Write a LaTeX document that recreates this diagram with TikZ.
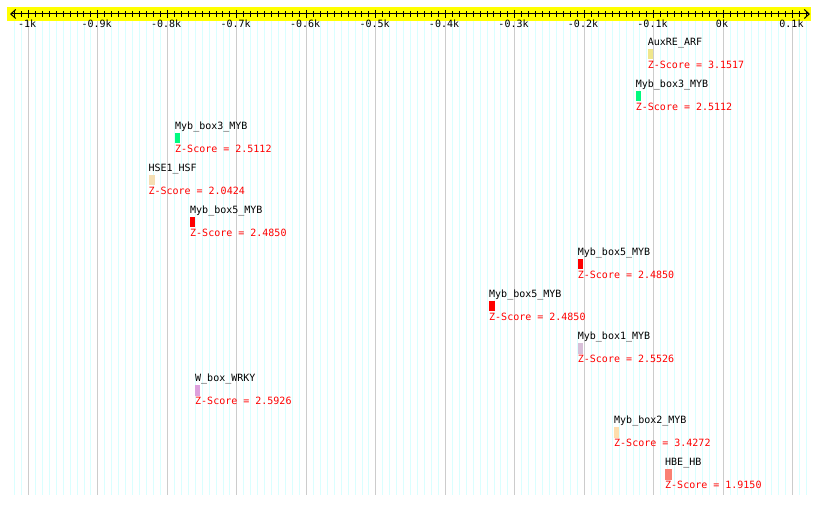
\documentclass[tikz,border=0pt]{standalone}
\usepackage{fontspec}
\usepackage{tikz}
\usetikzlibrary{arrows.meta}
\newfontfamily\monofont{DejaVu Sans Mono}
\definecolor{bandyellow}{RGB}{255,255,0}
\definecolor{gridcyan}{RGB}{218,255,255}
\definecolor{gridgray}{RGB}{204,204,204}
\definecolor{zred}{RGB}{255,0,0}
\definecolor{arfkhaki}{RGB}{240,230,140}
\definecolor{mybgreen}{RGB}{0,250,127}
\definecolor{hsfwheat}{RGB}{245,222,179}
\definecolor{mybred}{RGB}{255,0,0}
\definecolor{mybthistle}{RGB}{216,191,216}
\definecolor{wrkyplum}{RGB}{221,160,221}
\definecolor{mybpeach}{RGB}{255,222,173}
\definecolor{hbsalmon}{RGB}{250,128,114}

\begin{document}
\begin{tikzpicture}[x=1pt, y=-1pt,
    fname/.style={anchor=base west, inner sep=0pt, font=\monofont\fontsize{10}{12}\selectfont},
    zscore/.style={fname, text=zred},
    site/.style={fill=#1, anchor=north west, inner sep=0pt, minimum width=5.5pt, minimum height=10.3pt},
    ticklab/.style={anchor=base, inner sep=0pt, font=\monofont\fontsize{10}{12}\selectfont},
    arr/.style={{Straight Barb[length=5pt,width=9pt]}-{Straight Barb[length=5pt,width=9pt]}, line width=1pt}
]
\useasboundingbox (0,0) rectangle (820,505);

% Grid
\foreach \v in {-102,...,12}
  \draw[gridcyan, line width=0.9pt] ({723.3+6.949*\v},20.7) -- ({723.3+6.949*\v},495);
\foreach \v in {-10,...,1}
  \draw[gridgray, line width=1pt] ({723.3+69.49*\v},20.7) -- ({723.3+69.49*\v},495);

% Axis
\fill[bandyellow] (7,7) rectangle (811,20.7);
\coordinate (axl) at (10,14);
\coordinate (axr) at (810,14);
\draw[arr] (axl) -- (axr);
\foreach \v in {-102,...,12}
  \draw[line width=1pt] ({723.3+6.949*\v},11.3) -- ({723.3+6.949*\v},17);
\foreach \v/\t in {-10/-1k,-9/-0.9k,-8/-0.8k,-7/-0.7k,-6/-0.6k,-5/-0.5k,-4/-0.4k,-3/-0.3k,-2/-0.2k,-1/-0.1k,0/0k,1/0.1k} {
  \draw[line width=1pt] ({723.3+69.49*\v},10) -- ({723.3+69.49*\v},18.5);
  \node[ticklab] (lab\v) at ({722+69.49*\v},28) {\t};
}

% Sites
\node[fname] (n1) at (647.7,45.7) {AuxRE\_ARF};
\node[site=arfkhaki] (b1) at (647.7,49) {};
\node[zscore] (z1) at (647.7,68.7) {Z-Score = 3.1517};

\node[fname] (n2) at (635.7,87.7) {Myb\_box3\_MYB};
\node[site=mybgreen] (b2) at (635.7,91) {};
\node[zscore] (z2) at (635.7,110.7) {Z-Score = 2.5112};

\node[fname] (n3) at (175,129.7) {Myb\_box3\_MYB};
\node[site=mybgreen, minimum width=5pt] (b3) at (175,133) {};
\node[zscore] (z3) at (175,152.7) {Z-Score = 2.5112};

\node[fname] (n4) at (148.3,171.7) {HSE1\_HSF};
\node[site=hsfwheat, minimum width=6.5pt] (b4) at (148.3,175) {};
\node[zscore] (z4) at (148.3,194.7) {Z-Score = 2.0424};

\node[fname] (n5) at (190,213.7) {Myb\_box5\_MYB};
\node[site=mybred, minimum width=5pt] (b5) at (190,217) {};
\node[zscore] (z5) at (190,236.7) {Z-Score = 2.4850};

\node[fname] (n6) at (577.7,255.7) {Myb\_box5\_MYB};
\node[site=mybred] (b6) at (577.7,259) {};
\node[zscore] (z6) at (577.7,278.7) {Z-Score = 2.4850};

\node[fname] (n7) at (489,297.7) {Myb\_box5\_MYB};
\node[site=mybred] (b7) at (489,301) {};
\node[zscore] (z7) at (489,320.7) {Z-Score = 2.4850};

\node[fname] (n8) at (577.7,339.7) {Myb\_box1\_MYB};
\node[site=mybthistle] (b8) at (577.7,343) {};
\node[zscore] (z8) at (577.7,362.7) {Z-Score = 2.5526};

\node[fname] (n9) at (195,381.7) {W\_box\_WRKY};
\node[site=wrkyplum, minimum width=5pt] (b9) at (195,385) {};
\node[zscore] (z9) at (195,404.7) {Z-Score = 2.5926};

\node[fname] (n10) at (614,423.7) {Myb\_box2\_MYB};
\node[site=mybpeach, minimum width=5pt] (b10) at (614,427) {};
\node[zscore] (z10) at (614,446.7) {Z-Score = 3.4272};

\node[fname] (n11) at (665,465.7) {HBE\_HB};
\node[site=hbsalmon, minimum width=7pt] (b11) at (665,469) {};
\node[zscore] (z11) at (665,488.7) {Z-Score = 1.9150};
\end{tikzpicture}
\end{document}
